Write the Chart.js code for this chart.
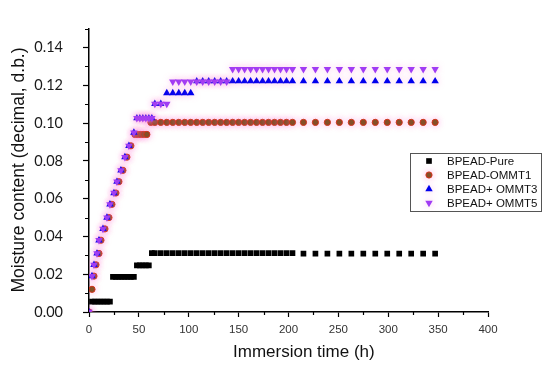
<!DOCTYPE html>
<html><head><meta charset="utf-8">
<script src="https://cdn.jsdelivr.net/npm/chart.js@4.4.0/dist/chart.umd.min.js"></script>
<style>html,body{margin:0;padding:0;background:#fff;}canvas{display:block;}</style>
</head><body>
<canvas id="c" width="550" height="367"></canvas>
<script>
// ---- data ----
const seriesLabels = ['BPEAD-Pure', 'BPEAD-OMMT1', 'BPEAD+ OMMT3', 'BPEAD+ OMMT5'];
const xTickValues = [0, 50, 100, 150, 200, 250, 300, 350, 400];
const xMinorTicks = [25, 75, 125, 175, 225, 275, 325, 375];
const yTickValues = [0.00, 0.02, 0.04, 0.06, 0.08, 0.10, 0.12, 0.14];
const yMinorTicks = [0.01, 0.03, 0.05, 0.07, 0.09, 0.11, 0.13, 0.15];
const xAxisTitle = 'Immersion time (h)';
const yAxisTitle = 'Moisture content (decimal, d.b.)';

const pureTimes = [3,6,9,12,15,18,21,24,27,30,33,36,39,42,45,48,51,54,57,60,63,
  66,72,78,84,90,96,102,108,114,120,126,132,138,144,150,156,162,168,174,180,186,192,198,204,
  215,227,239,251,263,275,287,299,311,323,335,347];
const pureValues = [0.0055,0.0055,0.0055,0.0055,0.0055,0.0055,0.0055,
  0.0186,0.0186,0.0186,0.0186,0.0186,0.0186,0.0186,0.0186,
  0.0247,0.0247,0.0247,0.0247,0.0247,
  0.0312,0.0312,0.0312,0.0312,0.0312,0.0312,0.0312,0.0312,0.0312,0.0312,0.0312,0.0312,0.0312,
  0.0312,0.0312,0.0312,0.0312,0.0312,0.0312,0.0312,0.0312,0.0312,0.0312,0.0312,0.0312,
  0.0309,0.0309,0.0309,0.0309,0.0309,0.0309,0.0309,0.0309,0.0309,0.0309,0.0309,0.0309];

const ommt1Times = [0,3,5,7,10,12,16,20,23,27,30,34,38,42,46,49,52,55,58,62,
  66,72,78,84,90,96,102,108,114,120,126,132,138,144,150,156,162,168,174,180,186,192,198,204,
  215,227,239,251,263,275,287,299,311,323,335,347];
const ommt1Values = [0,0.012,0.019,0.025,0.031,0.038,0.044,0.050,0.057,0.063,0.069,0.075,0.082,0.088,
  0.094,0.094,0.094,0.094,0.094,
  0.1004,0.1004,0.1004,0.1004,0.1004,0.1004,0.1004,0.1004,0.1004,0.1004,0.1004,0.1004,0.1004,
  0.1004,0.1004,0.1004,0.1004,0.1004,0.1004,0.1004,0.1004,0.1004,0.1004,0.1004,0.1004,
  0.1004,0.1004,0.1004,0.1004,0.1004,0.1004,0.1004,0.1004,0.1004,0.1004,0.1004,0.1004];

const ommt3Times = [0,3,5,8,10,14,18,21,25,28,32,36,40,45,48,51,54,57,60,63,
  66,72,78,84,90,96,102,108,114,120,126,132,138,144,150,156,162,168,174,180,186,192,198,204,
  215,227,239,251,263,275,287,299,311,323,335,347];
const ommt3Values = [0,0.019,0.025,0.031,0.038,0.044,0.050,0.057,0.063,0.069,0.075,0.082,0.088,0.095,
  0.1026,0.1026,0.1026,0.1026,0.1026,0.1026,
  0.1102,0.1102,
  0.1159,0.1159,0.1159,0.1159,0.1159,
  0.1222,0.1222,0.1222,0.1222,0.1222,0.1222,0.1222,0.1222,0.1222,0.1222,0.1222,0.1222,0.1222,
  0.1222,0.1222,0.1222,0.1222,
  0.1222,0.1222,0.1222,0.1222,0.1222,0.1222,0.1222,0.1222,0.1222,0.1222,0.1222,0.1222];

const ommt5Times = [0,3,5,8,10,14,18,21,25,28,32,36,40,45,48,51,54,57,60,63,
  66,72,78,84,90,96,102,108,114,120,126,132,138,144,150,156,162,168,174,180,186,192,198,204,
  215,227,239,251,263,275,287,299,311,323,335,347];
const ommt5Values = [0,0.019,0.025,0.031,0.038,0.044,0.050,0.057,0.063,0.069,0.075,0.082,0.088,0.095,
  0.1026,0.1026,0.1026,0.1026,0.1026,0.1026,
  0.1102,0.1102,0.1102,
  0.1219,0.1219,0.1219,0.1219,0.1219,0.1219,0.1219,0.1219,0.1219,0.1219,
  0.1286,0.1286,0.1286,0.1286,0.1286,0.1286,0.1286,0.1286,0.1286,0.1286,0.1286,
  0.1286,0.1286,0.1286,0.1286,0.1286,0.1286,0.1286,0.1286,0.1286,0.1286,0.1286,0.1286];

function zip(xs, ys) { return xs.map((x, i) => ({ x: x, y: ys[i] })); }

const HALO = 'rgba(255,120,215,0.5)';

const datasets = [
  { label: seriesLabels[3], data: zip(ommt5Times, ommt5Values), pointStyle: 'triangle', rotation: 180,
    pointRadius: 4.3, backgroundColor: '#a03cf4', borderColor: '#a03cf4', borderWidth: 0, halo: HALO, order: 0 },
  { label: seriesLabels[2], data: zip(ommt3Times, ommt3Values), pointStyle: 'triangle', rotation: 0,
    pointRadius: 4.3, backgroundColor: '#0000ee', borderColor: '#0000ee', borderWidth: 0, halo: HALO, order: 1 },
  { label: seriesLabels[1], data: zip(ommt1Times, ommt1Values), pointStyle: 'circle',
    pointRadius: 3.1, backgroundColor: '#7a4c18', borderColor: '#d2341c', borderWidth: 1, halo: HALO, order: 2 },
  { label: seriesLabels[0], data: zip(pureTimes, pureValues), pointStyle: 'rect',
    pointRadius: 4, backgroundColor: '#000000', borderColor: '#000000', borderWidth: 0, order: 3 }
];

const haloPlugin = {
  id: 'halo',
  beforeDatasetDraw(chart, args) {
    const ds = chart.data.datasets[args.index];
    if (ds.halo) { chart.ctx.save(); chart.ctx.shadowColor = ds.halo; chart.ctx.shadowBlur = 6; }
  },
  afterDatasetDraw(chart, args) {
    const ds = chart.data.datasets[args.index];
    if (ds.halo) { chart.ctx.restore(); }
  }
};

function legendPoint(ctx, ds, x, y) {
  ctx.fillStyle = ds.backgroundColor;
  ctx.strokeStyle = ds.borderColor;
  ctx.lineWidth = ds.borderWidth || 0;
  Chart.helpers.drawPoint(ctx, { pointStyle: ds.pointStyle, radius: ds.pointRadius, rotation: ds.rotation || 0, borderWidth: ds.borderWidth || 0 }, x, y);
}

const decorPlugin = {
  id: 'decor',
  afterDraw(chart) {
    const ctx = chart.ctx, xs = chart.scales.x, ys = chart.scales.y;
    ctx.save();
    // minor ticks
    ctx.strokeStyle = '#000'; ctx.lineWidth = 1.2; ctx.beginPath();
    xMinorTicks.forEach(v => { const p = Math.round(xs.getPixelForValue(v)) + 0.5; ctx.moveTo(p, xs.top); ctx.lineTo(p, xs.top + 3); });
    yMinorTicks.forEach(v => { const p = Math.round(ys.getPixelForValue(v)) + 0.5; ctx.moveTo(ys.right - 4, p); ctx.lineTo(ys.right, p); });
    ctx.stroke();
    // axis titles
    ctx.fillStyle = '#111';
    ctx.font = '17px "Liberation Sans", Arial, sans-serif';
    ctx.textAlign = 'left'; ctx.textBaseline = 'alphabetic';
    ctx.fillText(xAxisTitle, 233, 357);
    ctx.save();
    ctx.translate(24, 170); ctx.rotate(-Math.PI / 2);
    ctx.font = '17.5px "Liberation Sans", Arial, sans-serif';
    ctx.textAlign = 'center';
    ctx.fillText(yAxisTitle, 0, 0);
    ctx.restore();
    // legend
    ctx.strokeStyle = '#555'; ctx.lineWidth = 1;
    ctx.strokeRect(410.5, 153.5, 131, 58);
    const order = [3, 2, 1, 0];
    ctx.font = '11.5px "Liberation Sans", Arial, sans-serif';
    order.forEach((di, i) => {
      const ds = chart.data.datasets[di];
      const y = 161 + i * 14;
      ctx.save();
      if (ds.halo) { ctx.shadowColor = ds.halo; ctx.shadowBlur = 6; }
      legendPoint(ctx, ds, 429, y);
      ctx.restore();
      ctx.fillStyle = '#111'; ctx.textAlign = 'left'; ctx.textBaseline = 'middle';
      ctx.fillText(ds.label, 447, y + 0.5);
    });
    ctx.restore();
  }
};

new Chart(document.getElementById('c'), {
  type: 'scatter',
  data: { datasets: datasets },
  options: {
    responsive: false, animation: false, devicePixelRatio: 1, events: [],
    layout: { padding: { left: 0, right: 62, top: 13, bottom: 0 } },
    plugins: { legend: { display: false }, tooltip: { enabled: false } },
    scales: {
      x: {
        type: 'linear', min: 0, max: 400,
        afterBuildTicks: s => { s.ticks = xTickValues.map(v => ({ value: v })); },
        afterFit: s => { s.height = 55; },
        grid: { drawOnChartArea: false, drawTicks: true, tickLength: 5, tickColor: '#000', tickWidth: 1.2 },
        border: { display: true, color: '#000', width: 1.5 },
        ticks: { padding: 6, color: '#333', font: { family: '"Liberation Sans", Arial, sans-serif', size: 11.5 }, maxRotation: 0,
          callback: v => String(v) }
      },
      y: {
        type: 'linear', min: 0, max: 0.15,
        afterBuildTicks: s => { s.ticks = yTickValues.map(v => ({ value: v })); },
        afterFit: s => { s.width = 89; },
        grid: { drawOnChartArea: false, drawTicks: true, tickLength: 6, tickColor: '#000', tickWidth: 1.2 },
        border: { display: true, color: '#000', width: 1.5 },
        ticks: { padding: 20, color: '#1a1a1a', font: { family: 'Lato, "Open Sans", sans-serif', size: 14.5 },
          callback: v => Number(v).toFixed(2) }
      }
    }
  },
  plugins: [haloPlugin, decorPlugin]
});
</script>
</body></html>
